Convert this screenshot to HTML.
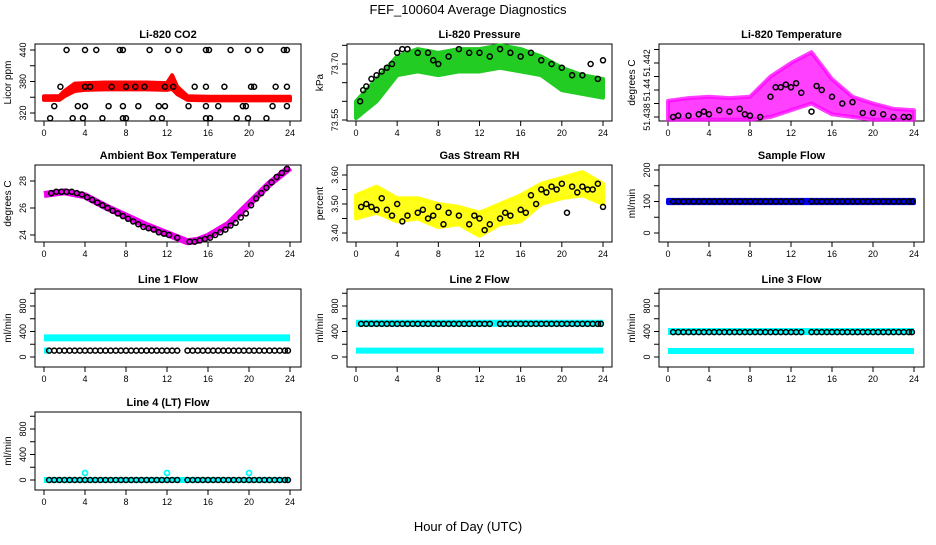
<!DOCTYPE html>
<html><head><meta charset="utf-8"><style>
body{margin:0;background:#fff;}
svg text{font-family:"Liberation Sans",sans-serif;}
</style></head><body>
<svg id="c" width="936" height="540" xmlns="http://www.w3.org/2000/svg">
<rect width="936" height="540" fill="#fff"/>
<text x="468" y="14" font-size="13" text-anchor="middle">FEF_100604  Average Diagnostics</text>
<text x="468" y="531" font-size="13" text-anchor="middle">Hour of Day (UTC)</text>
</svg>
<script>
// ---- data ----
const xTicks=[0,4,8,12,16,20,24];
const bandHours=[0,2,4,6,8,10,12,14,16,18,20,22,24];
const flowHours=[0.5,1,1.5,2,2.5,3,3.5,4,4.5,5,5.5,6,6.5,7,7.5,8,8.5,9,9.5,10,10.5,11,11.5,12,12.5,13,14,14.5,15,15.5,16,16.5,17,17.5,18,18.5,19,19.5,20,20.5,21,21.5,22,22.5,23,23.5,23.8];
// CO2
const co2Hours=[0,1.5,2,3,4,6,8,10,12,12.5,13,14,16,20,24];
const co2Low=[345,345,352,362,364,365,365,365,364,366,356,345,344,344,344];
const co2High=[352,352,362,376,377,378,378,378,377,392,370,352,351,351,351];
const co2BlackH=[2.2,4.0,5.1,7.4,7.7,10.3,12.1,13.2,15.8,16.1,18.2,19.9,21.1,23.4,23.7,1.6,4.0,4.5,6.6,8.0,8.9,9.8,11.8,12.6,14.7,15.8,17.6,20.2,20.5,22.6,23.7,1.0,3.3,4.0,6.3,7.7,9.2,11.2,11.8,14.1,15.8,17.0,19.4,19.7,22.3,23.7,0.6,2.8,3.8,5.7,7.7,8.0,10.6,11.5,15.8,16.2,18.8,19.9,21.7];
const co2BlackV=[440,440,440,440,440,440,440,440,440,440,440,440,440,440,440,370,370,370,370,370,370,370,370,370,370,370,370,370,370,370,370,333,333,333,333,333,333,333,333,333,333,333,333,333,333,333,310,310,310,310,310,310,310,310,310,310,310,310,310];
// Pressure
const presLow=[73.555,73.60,73.67,73.68,73.67,73.68,73.68,73.69,73.68,73.67,73.63,73.62,73.61];
const presHigh=[73.60,73.66,73.72,73.74,73.73,73.74,73.74,73.75,73.74,73.72,73.69,73.67,73.66];
const presBlackH=[0.4,0.7,1,1.5,2,2.5,3,3.5,4,4.5,5,6,7,7.5,8,9,10,11,12,13,14,15,16,17,18,19,20,21,22,22.8,23.5,24];
const presBlackV=[73.60,73.63,73.64,73.66,73.67,73.68,73.69,73.70,73.73,73.74,73.74,73.73,73.73,73.71,73.70,73.72,73.74,73.73,73.73,73.72,73.74,73.73,73.72,73.73,73.71,73.70,73.69,73.67,73.67,73.70,73.66,73.71];
// Temperature
const tempLow=[51.4378,51.4378,51.4378,51.4378,51.4378,51.4380,51.4385,51.4390,51.4382,51.4380,51.4378,51.4378,51.4378];
const tempHigh=[51.4392,51.4394,51.4395,51.4394,51.4395,51.4410,51.4420,51.4428,51.4408,51.4395,51.4390,51.4386,51.4385];
const tempBlackH=[0.5,1,2,3,3.5,4,5,6,7,7.5,8,9,10,10.5,11,11.5,12,12.5,13,14,14.5,15,16,17,18,19,20,21,22,23,23.5];
const tempBlackV=[51.4380,51.4381,51.4381,51.4382,51.4384,51.4382,51.4385,51.4384,51.4386,51.4382,51.4381,51.4380,51.4395,51.4402,51.4402,51.4404,51.4402,51.4405,51.4398,51.4384,51.4403,51.4400,51.4395,51.4390,51.4391,51.4383,51.4383,51.4382,51.4380,51.4380,51.4380];
// Ambient box temperature
const ambHours=[0,2,4,6,8,10,12,14,15,16,18,20,22,24];
const ambLine=[27.0,27.2,26.9,26.1,25.4,24.7,24.1,23.5,23.6,23.9,24.8,26.3,27.8,29.0];
const ambBlackH=[0.7,1.2,1.7,2.2,2.7,3.2,3.7,4.2,4.7,5.2,5.7,6.2,6.7,7.2,7.7,8.2,8.7,9.2,9.7,10.2,10.7,11.2,11.7,12.2,13,14.2,14.7,15.2,15.7,16.2,16.7,17.2,17.7,18.2,18.7,19.2,19.7,20.2,20.7,21.2,21.7,22.2,22.7,23.2,23.7];
const ambBlackV=[27.1,27.2,27.2,27.2,27.2,27.1,27.0,26.8,26.6,26.4,26.2,26.0,25.8,25.6,25.4,25.2,25.0,24.8,24.6,24.5,24.4,24.2,24.1,24.0,23.8,23.5,23.5,23.6,23.7,23.8,24.0,24.2,24.4,24.7,24.9,25.3,25.6,26.2,26.7,27.1,27.5,27.9,28.3,28.6,28.9];
// Gas stream RH
const rhLow=[3.45,3.47,3.44,3.45,3.42,3.43,3.39,3.43,3.44,3.50,3.52,3.53,3.50];
const rhHigh=[3.53,3.56,3.52,3.52,3.50,3.49,3.47,3.50,3.53,3.57,3.59,3.61,3.57];
const rhBlackH=[0.5,1,1.5,2,2.5,3,3.5,4,4.5,5,6,6.5,7,7.5,8,8.5,9,10,11,11.5,12,12.5,13,14,14.5,15,16,16.5,17,17.5,18,18.5,19,19.5,20,20.5,21,21.5,22,22.5,23,23.5,24];
const rhBlackV=[3.49,3.50,3.49,3.48,3.52,3.48,3.46,3.50,3.44,3.46,3.47,3.48,3.45,3.46,3.49,3.43,3.47,3.46,3.43,3.46,3.45,3.41,3.43,3.45,3.47,3.46,3.48,3.47,3.53,3.50,3.55,3.54,3.56,3.55,3.57,3.47,3.56,3.54,3.56,3.55,3.55,3.57,3.49];
// Flows
const sampleBand=[95,105];
const sampleBlack=[100];
const line1Cyan=[300];const line1Black=[100];
const line2Cyan=[530];const line2Low=[100];const line2Black=[520];
const line3Cyan=[400];const line3Low=[95];const line3Black=[390];
const line4Cyan=[0];const line4Black=[0];
const line4SpikeH=[4,12,20];const line4SpikeV=[110,110,110];

// ---- drawing ----
const NS="http://www.w3.org/2000/svg";
const svg=document.getElementById('c');
function el(tag,attrs,parent){const e=document.createElementNS(NS,tag);for(const k in attrs)e.setAttribute(k,attrs[k]);(parent||svg).appendChild(e);return e;}
const cols=[{x0:35,x1:301,h0:44,h24:290},{x0:347,x1:612,h0:356,h24:603},{x0:659,x1:924,h0:668,h24:914}];
const rows=[{y0:44,y1:121},{y0:165,y1:242},{y0:289,y1:367},{y0:412,y1:490}];
function panel(name,title,col,row,ylab,yref,yticks,ylabels){
  const C=cols[col],R=rows[row];
  const g=el('g',{});
  
  
  const xs=h=>C.h0+(C.h24-C.h0)*h/24;
  const ys=v=>yref[1]+(v-yref[0])*(yref[3]-yref[1])/(yref[2]-yref[0]);
  const t=el('text',{x:(C.x0+C.x1)/2,y:R.y0-6,'font-size':11,'font-weight':'bold','text-anchor':'middle'},g);t.textContent=title;
  
  
  const yl=el('text',{x:0,y:0,'font-size':10,'text-anchor':'middle',transform:`translate(${C.x0-24},${(R.y0+R.y1)/2}) rotate(-90)`},g);yl.textContent=ylab;
  
  
  const clip=el('g',{},g);
  xTicks.forEach(h=>{
    el('line',{x1:xs(h),x2:xs(h),y1:R.y1,y2:R.y1+5,stroke:'#000'},g);
    const tx=el('text',{x:xs(h),y:R.y1+15,'font-size':9,'text-anchor':'middle'},g);tx.textContent=h;
    
    
  });
  yticks.forEach((v,i)=>{
    el('line',{x1:C.x0-5,x2:C.x0,y1:ys(v),y2:ys(v),stroke:'#000'},g);
    if(ylabels[i]!==''){const ty=el('text',{x:0,y:0,'font-size':9,'text-anchor':'middle',transform:`translate(${C.x0-9},${ys(v)}) rotate(-90)`},g);ty.textContent=ylabels[i];
    
    }
  });
  const box=el('rect',{x:C.x0,y:R.y0,width:C.x1-C.x0,height:R.y1-R.y0,fill:'none',stroke:'#000'},g);
  
  
  return {g,xs,ys};
}
function band(P,hours,low,high,color,op){
  const pts=hours.map((h,i)=>P.xs(h)+','+P.ys(high[i])).concat(hours.slice().reverse().map((h,j)=>P.xs(h)+','+P.ys(low[hours.length-1-j])));
  const b=el('polygon',{points:pts.join(' '),fill:color,stroke:color,'stroke-width':4,'stroke-linejoin':'round','fill-opacity':op,'stroke-opacity':op},P.g);
  
  
}
function pts(P,hours,vals,color,r,w){
  hours.forEach((h,i)=>{const c=el('circle',{cx:P.xs(h),cy:P.ys(vals[i]),r:r,fill:'none',stroke:color,'stroke-width':w},P.g);
  
  });
}
function flat(P,val,color,h1,h2,thick){
  const l=el('line',{x1:P.xs(h1),x2:P.xs(h2),y1:P.ys(val),y2:P.ys(val),stroke:color,'stroke-width':thick},P.g);
  
  
}
// CO2
let P=panel('co2-panel','Li-820 CO2',0,0,'Licor ppm',[320,113,440,50],[320,350,380,410,440],['320','','380','','440']);
band(P,co2Hours,co2Low,co2High,'#ff0000',1);
pts(P,co2BlackH,co2BlackV,'#000',2.5,1.5);
// Pressure
P=panel('pressure-panel','Li-820 Pressure',1,0,'kPa',[73.55,120,73.70,64],[73.55,73.60,73.65,73.70,73.75],['73.55','','','73.70','']);
band(P,bandHours,presLow,presHigh,'#22cc22',1);
pts(P,presBlackH,presBlackV,'#000',2.5,1.5);
// Temperature
P=panel('temperature-panel','Li-820 Temperature',2,0,'degrees C',[51.438,117,51.442,63],[51.438,51.439,51.440,51.441,51.442,51.443],['51.438','','51.44','','51.442','']);
band(P,bandHours,tempLow,tempHigh,'#ff00ff',0.75);
pts(P,tempBlackH,tempBlackV,'#000',2.5,1.5);
// Ambient
P=panel('ambient-temp-panel','Ambient Box Temperature',0,1,'degrees C',[24,235,28,181],[24,26,28],['24','26','28']);
{const l=el('polyline',{points:ambHours.map((h,i)=>P.xs(h)+','+P.ys(ambLine[i])).join(' '),fill:'none',stroke:'#ee00ee','stroke-width':7,'stroke-linejoin':'round'},P.g);

}
pts(P,ambBlackH,ambBlackV,'#000',2.5,1.5);
// RH
P=panel('gas-rh-panel','Gas Stream RH',1,1,'percent',[3.40,233,3.60,175],[3.40,3.45,3.50,3.55,3.60],['3.40','','3.50','','3.60']);
band(P,bandHours,rhLow,rhHigh,'#ffff00',0.9);
pts(P,rhBlackH,rhBlackV,'#000',2.5,1.5);
// Sample flow
P=panel('sample-flow-panel','Sample Flow',2,1,'ml/min',[0,233,200,170],[0,50,100,150,200],['0','','100','','200']);
band(P,[0,24],[sampleBand[0],sampleBand[0]],[sampleBand[1],sampleBand[1]],'#0000ee',1);
pts(P,flowHours,flowHours.map(()=>sampleBlack[0]),'#000',2.5,1.5);
// Line flows
const fy=[0,200,400,600,800,1000],fl=['0','','400','','800',''];
P=panel('line1-flow-panel','Line 1 Flow',0,2,'ml/min',[0,357,800,306],fy,fl);
flat(P,line1Cyan[0],'#00ffff',0,24,7);flat(P,line1Black[0],'#00ffff',0,0.5,6);
pts(P,flowHours,flowHours.map(()=>line1Black[0]),'#000',2.5,1.5);
P=panel('line2-flow-panel','Line 2 Flow',1,2,'ml/min',[0,357,800,306],fy,fl);
flat(P,line2Cyan[0],'#00ffff',0,24,7);flat(P,line2Low[0],'#00ffff',0,24,6);
pts(P,flowHours,flowHours.map(()=>line2Black[0]),'#000',2.5,1.5);
P=panel('line3-flow-panel','Line 3 Flow',2,2,'ml/min',[0,357,800,306],fy,fl);
flat(P,line3Cyan[0],'#00ffff',0,24,7);flat(P,line3Low[0],'#00ffff',0,24,6);
pts(P,flowHours,flowHours.map(()=>line3Black[0]),'#000',2.5,1.5);
P=panel('line4-flow-panel','Line 4 (LT) Flow',0,3,'ml/min',[0,480,800,429],fy,fl);
flat(P,line4Cyan[0],'#00ffff',0,24,6);
pts(P,line4SpikeH,line4SpikeV,'#00ffff',2.5,1.8);
pts(P,flowHours,flowHours.map(()=>line4Black[0]),'#000',2.5,1.5);
</script>
</body></html>
